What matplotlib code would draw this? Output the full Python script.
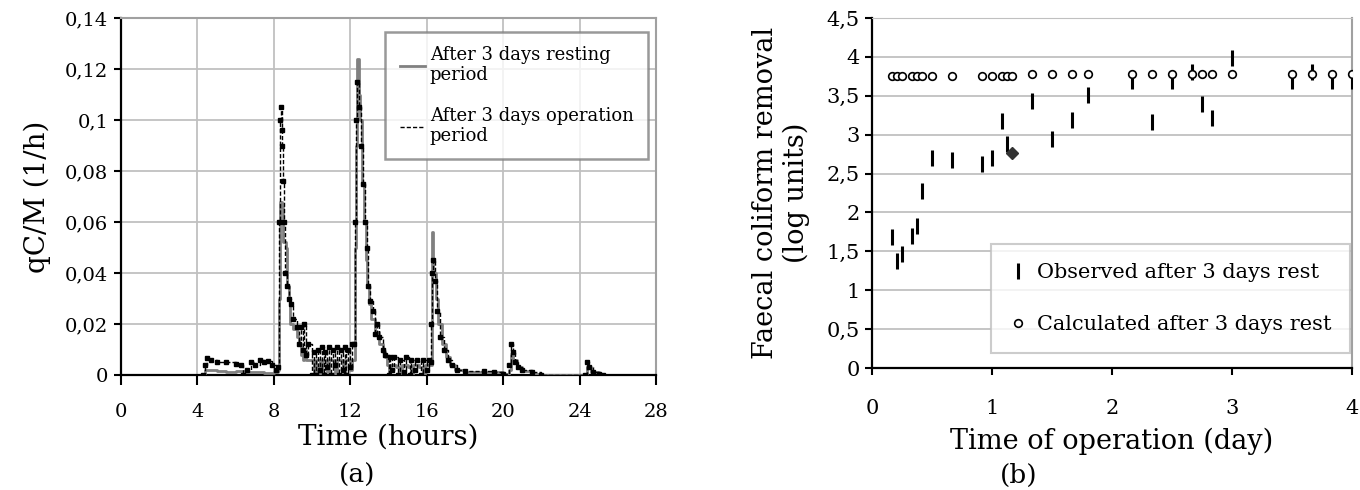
import matplotlib

matplotlib.use("Agg")
import matplotlib.pyplot as plt
from matplotlib.ticker import FuncFormatter, MultipleLocator

# panel (a): qC/M after 3 days resting period (grey) / operation period (black dashed)
rest_t = [4.3, 4.4, 5.0, 5.5, 6.0, 6.5, 7.0, 7.5, 8.0, 8.2, 8.25, 8.3, 8.45, 8.5, 8.65, 8.7, 8.8,
          8.85, 9.0, 9.2, 9.3, 9.4, 9.5, 9.6, 9.7, 10.0, 10.1, 10.2, 10.4, 10.5, 10.8, 10.9, 11.2,
          11.3, 11.6, 11.7, 12.0, 12.1, 12.25, 12.3, 12.35, 12.45, 12.5, 12.6, 12.7, 12.8, 12.9,
          13.0, 13.1, 13.3, 13.5, 13.7, 13.8, 13.9, 14.0, 14.1, 14.4, 14.6, 14.7, 15.0, 15.2, 15.3,
          15.6, 15.8, 15.9, 16.2, 16.3, 16.35, 16.5, 16.6, 16.8, 17.0, 17.2, 17.5, 18.0, 20.0, 20.3,
          20.4, 20.5, 20.7, 21.0, 21.5, 22.0, 24.3, 24.4, 24.6, 25.0, 25.1]
rest_v = [0.0, 0.002, 0.0015, 0.001, 0.0015, 0.001, 0.0012, 0.0008, 0.001, 0.002, 0.03, 0.068,
          0.066, 0.052, 0.05, 0.035, 0.03, 0.02, 0.018, 0.015, 0.012, 0.008, 0.006, 0.01, 0.006,
          0.006, 0.001, 0.006, 0.0, 0.006, 0.001, 0.006, 0.0, 0.006, 0.001, 0.006, 0.002, 0.006,
          0.05, 0.09, 0.124, 0.11, 0.1, 0.075, 0.06, 0.045, 0.035, 0.028, 0.022, 0.017, 0.012,
          0.009, 0.007, 0.004, 0.0, 0.004, 0.003, 0.0, 0.004, 0.003, 0.0, 0.004, 0.003, 0.0,
          0.004, 0.004, 0.056, 0.04, 0.03, 0.02, 0.012, 0.007, 0.004, 0.002, 0.001, 0.0005,
          0.002, 0.008, 0.006, 0.003, 0.0015, 0.0005, 0.0, 0.0, 0.003, 0.001, 0.0005, 0.0]

oper_t = [4.3, 4.4, 4.5, 4.7, 5.0, 5.5, 6.0, 6.3, 6.4, 6.6, 6.8, 7.0, 7.3, 7.5, 7.7, 7.9, 8.1,
          8.2, 8.25, 8.3, 8.35, 8.4, 8.45, 8.5, 8.55, 8.6, 8.7, 8.8, 8.9, 9.0, 9.2, 9.3, 9.4, 9.5,
          9.6, 9.7, 9.8, 10.0, 10.1, 10.2, 10.3, 10.4, 10.5, 10.6, 10.7, 10.8, 10.9, 11.0, 11.1,
          11.2, 11.3, 11.4, 11.5, 11.6, 11.7, 11.8, 11.9, 12.0, 12.1, 12.2, 12.25, 12.3, 12.35,
          12.45, 12.55, 12.65, 12.75, 12.85, 12.95, 13.05, 13.2, 13.3, 13.4, 13.5, 13.7, 13.8,
          14.0, 14.1, 14.2, 14.3, 14.5, 14.6, 14.8, 14.9, 15.1, 15.2, 15.4, 15.5, 15.7, 15.8,
          16.0, 16.1, 16.2, 16.25, 16.3, 16.35, 16.45, 16.55, 16.7, 16.9, 17.1, 17.3, 17.6, 18.0,
          19.0, 19.5, 20.0, 20.3, 20.4, 20.5, 20.6, 20.8, 21.0, 21.5, 22.0, 24.3, 24.4, 24.5,
          24.7, 25.0, 25.2]
oper_v = [0.0, 0.004, 0.0065, 0.006, 0.005, 0.005, 0.0045, 0.004, 0.0, 0.002, 0.005, 0.004,
          0.006, 0.005, 0.0055, 0.004, 0.002, 0.003, 0.06, 0.1, 0.105, 0.096, 0.09, 0.076, 0.06,
          0.04, 0.035, 0.03, 0.028, 0.022, 0.019, 0.012, 0.019, 0.01, 0.02, 0.008, 0.012, 0.0,
          0.009, 0.0, 0.01, 0.002, 0.011, 0.0, 0.009, 0.003, 0.011, 0.0, 0.01, 0.004, 0.011, 0.0,
          0.01, 0.002, 0.011, 0.0, 0.01, 0.003, 0.012, 0.012, 0.06, 0.1, 0.115, 0.105, 0.09,
          0.075, 0.06, 0.05, 0.035, 0.029, 0.025, 0.016, 0.02, 0.015, 0.01, 0.008, 0.0, 0.007,
          0.002, 0.007, 0.0, 0.006, 0.001, 0.007, 0.0, 0.006, 0.002, 0.006, 0.0, 0.006, 0.002,
          0.006, 0.005, 0.02, 0.04, 0.045, 0.037, 0.025, 0.015, 0.01, 0.006, 0.004, 0.002,
          0.0015, 0.0015, 0.001, 0.0005, 0.004, 0.012, 0.009, 0.005, 0.003, 0.002, 0.001, 0.0,
          0.0, 0.005, 0.003, 0.001, 0.0005, 0.0]

# panel (b): faecal coliform removal (log units)
calc_day = [0.167, 0.208, 0.25, 0.333, 0.375, 0.417, 0.5, 0.667, 0.917, 1.0, 1.083, 1.125, 1.167,
            1.333, 1.5, 1.667, 1.8, 2.167, 2.333, 2.5, 2.667, 2.75, 2.833, 3.0, 3.5, 3.667,
            3.833, 4.0]
calc_log = [3.75] * 13 + [3.78] * 15

obs_day = [0.167, 0.208, 0.25, 0.333, 0.375, 0.417, 0.5, 0.667, 0.917, 1.0, 1.083, 1.125, 1.333,
           1.5, 1.667, 1.8, 2.167, 2.333, 2.5, 2.667, 2.75, 2.833, 3.0, 3.5, 3.667, 3.833, 4.0]
obs_log = [1.68, 1.38, 1.46, 1.70, 1.83, 2.27, 2.70, 2.67, 2.62, 2.70, 3.17, 2.88, 3.43, 2.95,
           3.19, 3.51, 3.69, 3.16, 3.69, 3.80, 3.40, 3.21, 3.98, 3.69, 3.80, 3.69, 3.69]

extra_day = [1.167]
extra_log = [2.77]

plt.rcParams["font.family"] = "DejaVu Serif"


def comma(v, pos):
    return f"{v:g}".replace(".", ",")


fig = plt.figure(figsize=(13.6, 4.9), dpi=100)

# ---- (a)
ax = fig.add_axes([121 / 1360, 1 - 375 / 490, 535 / 1360, 357 / 490])
ax.plot(rest_t, rest_v, drawstyle="steps-post", color="#808080", lw=2.0,
        label="After 3 days resting\nperiod", zorder=3)
ax.plot(oper_t, oper_v, drawstyle="steps-post", color="black", lw=1.0, ls=(0, (3, 1.5)),
        label="After 3 days operation\nperiod", zorder=4)
ax.plot(oper_t, oper_v, ls="none", marker="s", ms=2.3, color="black", zorder=4)
ax.set_xlim(0, 28)
ax.set_ylim(0, 0.14)
ax.xaxis.set_major_locator(MultipleLocator(4))
ax.yaxis.set_major_locator(MultipleLocator(0.02))
ax.yaxis.set_major_formatter(FuncFormatter(comma))
ax.grid(True, color="#c0c0c0", lw=1.3)
ax.set_axisbelow(True)
for side in ["top", "right"]:
    ax.spines[side].set_color("#a0a0a0")
    ax.spines[side].set_linewidth(1.5)
for side in ["left", "bottom"]:
    ax.spines[side].set_linewidth(1.6)
ax.tick_params(axis="x", direction="out", length=7, width=1.5, labelsize=14, pad=13)
ax.tick_params(axis="y", direction="out", length=5, width=1.5, labelsize=14, pad=4)
ax.set_xlabel("Time (hours)", fontsize=20, labelpad=2)
ax.set_ylabel("qC/M (1/h)", fontsize=20, labelpad=10)
leg = ax.legend(loc="upper right", bbox_to_anchor=(0.985, 0.961), borderaxespad=0,
                fontsize=13, frameon=True, fancybox=False, handlelength=1.4,
                handletextpad=0.25, labelspacing=1.3, borderpad=0.8)
for t in leg.get_texts():
    t.set_linespacing(1.1)
leg.get_frame().set_edgecolor("#808080")
leg.get_frame().set_linewidth(1.8)
fig.text(357 / 1360, 1 - 475 / 490, "(a)", fontsize=19, ha="center", va="center")

# ---- (b)
bx = fig.add_axes([872 / 1360, 1 - 368 / 490, 480 / 1360, 350 / 490])
bx.plot(obs_day, obs_log, ls="none", marker="|", ms=11, mew=2.2, color="black",
        label="Observed after 3 days rest", zorder=3)
bx.plot(calc_day, calc_log, ls="none", marker="o", ms=5.5, mew=1.2, mfc="white", mec="black",
        label="Calculated after 3 days rest", zorder=4)
bx.plot(extra_day, extra_log, ls="none", marker="D", ms=6, color="#333333", zorder=4)
bx.set_xlim(0, 4)
bx.set_ylim(0, 4.5)
bx.xaxis.set_major_locator(MultipleLocator(1))
bx.yaxis.set_major_locator(MultipleLocator(0.5))
bx.yaxis.set_major_formatter(FuncFormatter(comma))
bx.grid(True, axis="y", color="#c0c0c0", lw=1.3)
bx.set_axisbelow(True)
bx.spines["top"].set_color("#c0c0c0")
bx.spines["right"].set_color("#a0a0a0")
bx.spines["right"].set_linewidth(1.5)
for side in ["left", "bottom"]:
    bx.spines[side].set_linewidth(1.6)
bx.tick_params(axis="x", direction="out", length=5, width=1.5, labelsize=15, pad=17)
bx.tick_params(axis="y", direction="out", length=5, width=1.5, labelsize=15, pad=4)
bx.set_xlabel("Time of operation (day)", fontsize=19.5, labelpad=7)
bx.set_ylabel("Faecal coliform removal\n(log units)", fontsize=19.5, labelpad=12, linespacing=1.15)
leg2 = bx.legend(loc="lower right", bbox_to_anchor=(0.996, 0.043), borderaxespad=0,
                 fontsize=15, frameon=True, fancybox=False, handlelength=0.8,
                 handletextpad=0.5, labelspacing=1.6, borderpad=0.9)
leg2.get_frame().set_edgecolor("#c0c0c0")
leg2.get_frame().set_linewidth(1.5)
fig.text(1019 / 1360, 1 - 475 / 490, "(b)", fontsize=19, ha="center", va="center")

fig.savefig("out.png", dpi=100, facecolor="white")
